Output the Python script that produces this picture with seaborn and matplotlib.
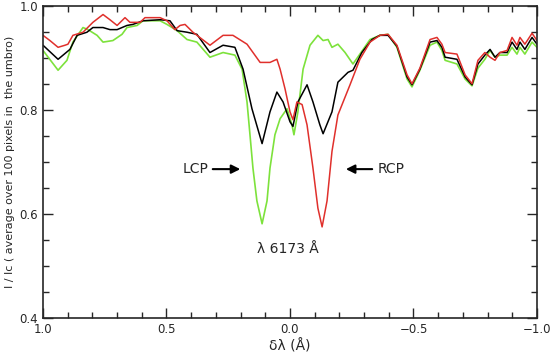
import matplotlib
matplotlib.use("Agg")
import matplotlib.pyplot as plt
from matplotlib.ticker import MultipleLocator
import seaborn as sns

# wavelength offsets (Angstrom) and normalised intensities
red_x = [1.000, 0.972, 0.939, 0.911, 0.899, 0.879, 0.838, 0.798, 0.757, 0.729, 0.700, 0.668, 0.648, 0.607,
         0.587, 0.526, 0.498, 0.466, 0.445, 0.425, 0.393, 0.324, 0.271, 0.231, 0.174, 0.121, 0.081, 0.053,
         0.040, 0.020, 0.000, -0.012, -0.028, -0.049, -0.069, -0.093, -0.113, -0.130, -0.150, -0.170, -0.194,
         -0.243, -0.283, -0.324, -0.364, -0.397, -0.433, -0.474, -0.494, -0.526, -0.567, -0.595, -0.615, -0.628,
         -0.676, -0.709, -0.737, -0.761, -0.789, -0.810, -0.830, -0.850, -0.879, -0.899, -0.919, -0.931, -0.951,
         -0.980, -1.000]
red_y = [0.943, 0.933, 0.920, 0.924, 0.926, 0.943, 0.949, 0.968, 0.983, 0.973, 0.962, 0.977, 0.968, 0.968,
         0.977, 0.977, 0.971, 0.954, 0.962, 0.964, 0.949, 0.924, 0.943, 0.943, 0.926, 0.891, 0.891, 0.897,
         0.878, 0.840, 0.796, 0.781, 0.815, 0.810, 0.771, 0.688, 0.611, 0.575, 0.625, 0.720, 0.790,
         0.848, 0.897, 0.930, 0.943, 0.945, 0.924, 0.867, 0.850, 0.880, 0.935, 0.939, 0.926, 0.910,
         0.907, 0.867, 0.850, 0.895, 0.910, 0.901, 0.895, 0.910, 0.914, 0.939, 0.924, 0.939, 0.926,
         0.947, 0.933]

black_x = [1.000, 0.939, 0.891, 0.862, 0.822, 0.798, 0.757, 0.729, 0.700, 0.660, 0.636, 0.595, 0.526, 0.486,
           0.457, 0.417, 0.377, 0.324, 0.271, 0.223, 0.190, 0.154, 0.113, 0.081, 0.053, 0.028, 0.000, -0.012,
           -0.032, -0.069, -0.093, -0.121, -0.134, -0.170, -0.194, -0.235, -0.255, -0.291, -0.332, -0.364,
           -0.397, -0.433, -0.474, -0.494, -0.526, -0.567, -0.595, -0.615, -0.628, -0.676, -0.709, -0.737,
           -0.761, -0.789, -0.810, -0.830, -0.850, -0.879, -0.899, -0.919, -0.931, -0.951, -0.980, -1.000]
black_y = [0.924, 0.897, 0.916, 0.943, 0.949, 0.958, 0.958, 0.954, 0.954, 0.962, 0.964, 0.971, 0.973, 0.971,
           0.952, 0.949, 0.945, 0.910, 0.924, 0.920, 0.878, 0.802, 0.735, 0.796, 0.834, 0.815, 0.777, 0.768,
           0.815, 0.848, 0.815, 0.771, 0.754, 0.796, 0.853, 0.872, 0.876, 0.910, 0.935, 0.943,
           0.943, 0.922, 0.863, 0.848, 0.878, 0.930, 0.933, 0.920, 0.901, 0.897, 0.863, 0.848,
           0.888, 0.905, 0.916, 0.901, 0.910, 0.910, 0.930, 0.916, 0.930, 0.916, 0.939, 0.926]

green_x = [1.000, 0.939, 0.903, 0.879, 0.838, 0.818, 0.781, 0.757, 0.717, 0.680, 0.660, 0.619, 0.595, 0.526,
           0.498, 0.457, 0.417, 0.377, 0.324, 0.271, 0.223, 0.194, 0.174, 0.162, 0.150, 0.134, 0.113, 0.093,
           0.081, 0.061, 0.040, 0.012, -0.008, -0.016, -0.032, -0.053, -0.081, -0.113, -0.134, -0.154, -0.170,
           -0.194, -0.223, -0.255, -0.283, -0.324, -0.364, -0.397, -0.433, -0.474, -0.494, -0.526, -0.567,
           -0.595, -0.615, -0.628, -0.676, -0.709, -0.737, -0.761, -0.789, -0.810, -0.830, -0.850, -0.879,
           -0.899, -0.919, -0.931, -0.951, -0.980, -1.000]
green_y = [0.914, 0.876, 0.895, 0.930, 0.958, 0.954, 0.943, 0.930, 0.933, 0.945, 0.958, 0.962, 0.971, 0.971,
           0.964, 0.952, 0.935, 0.930, 0.901, 0.910, 0.905, 0.878, 0.815, 0.752, 0.688, 0.625, 0.581, 0.625,
           0.688, 0.752, 0.783, 0.802, 0.771, 0.752, 0.796, 0.878, 0.924, 0.943, 0.933, 0.935, 0.920,
           0.926, 0.910, 0.888, 0.907, 0.935, 0.943, 0.945, 0.920, 0.859, 0.844, 0.876, 0.924,
           0.930, 0.914, 0.895, 0.888, 0.859, 0.846, 0.880, 0.897, 0.914, 0.901, 0.905, 0.905,
           0.920, 0.907, 0.920, 0.907, 0.930, 0.920]

sns.set_style("ticks")
plt.rcParams['font.family'] = ['DejaVu Sans']

fig = plt.figure(figsize=(5.52, 3.59), dpi=100)
ax = fig.add_axes([0.0779, 0.1142, 0.8949, 0.8700])

sns.lineplot(x=green_x, y=green_y, color='#7de23c', lw=1.2, ax=ax)
sns.lineplot(x=black_x, y=black_y, color='black', lw=1.1, ax=ax)
sns.lineplot(x=red_x, y=red_y, color='#e0302c', lw=1.1, ax=ax)

ax.set_xlim(1.0, -1.0)
ax.set_ylim(0.4, 1.0)
ax.xaxis.set_major_locator(MultipleLocator(0.5))
ax.xaxis.set_minor_locator(MultipleLocator(0.1))
ax.yaxis.set_major_locator(MultipleLocator(0.2))
ax.yaxis.set_minor_locator(MultipleLocator(0.05))
ax.tick_params(which='both', direction='in', top=True, right=True, width=1.0, labelsize=8.5)
ax.tick_params(which='major', length=7)
ax.tick_params(which='minor', length=4)
for s in ax.spines.values():
    s.set_linewidth(1.2)

ax.set_xlabel("δλ (Å)", fontsize=10, labelpad=2)
ax.set_ylabel("I / Ic ( average over 100 pixels in  the umbro)", fontsize=8, labelpad=3)

# annotations
ax.annotate("", xy=(0.190, 0.686), xytext=(0.324, 0.686),
            arrowprops=dict(arrowstyle='-|>', color='k', lw=1.5, mutation_scale=13))
ax.text(0.381, 0.686, "LCP", ha='center', va='center', fontsize=10)
ax.annotate("", xy=(-0.215, 0.686), xytext=(-0.344, 0.686),
            arrowprops=dict(arrowstyle='-|>', color='k', lw=1.5, mutation_scale=13))
ax.text(-0.356, 0.686, "RCP", ha='left', va='center', fontsize=10)
ax.text(0.008, 0.532, "λ 6173 Å", ha='center', va='center', fontsize=10)

fig.savefig("out.png", dpi=100)
